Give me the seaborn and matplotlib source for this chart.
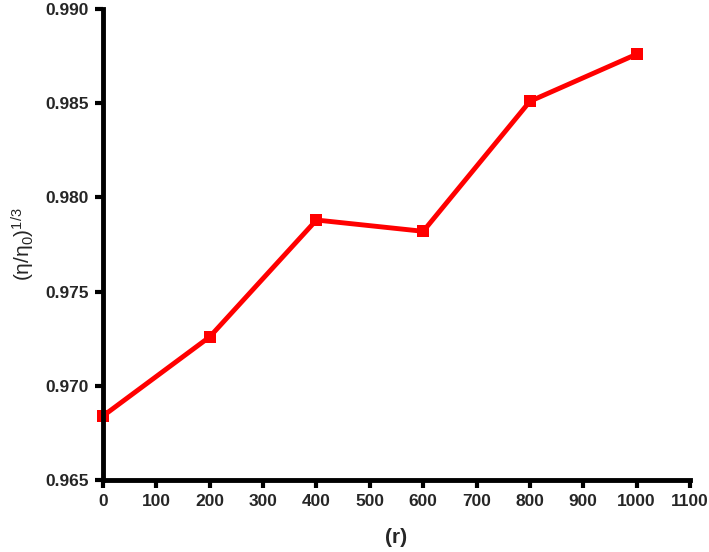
import pandas as pd
import matplotlib.pyplot as plt
import seaborn as sns

# dados
r_vals = [0, 200, 400, 600, 800, 1000]
eta_ratio = [0.9684, 0.9726, 0.9788, 0.9782, 0.9851, 0.9876]

x_ticks = [0, 100, 200, 300, 400, 500, 600, 700, 800, 900, 1000, 1100]
y_ticks = [0.965, 0.970, 0.975, 0.980, 0.985, 0.990]
y_tick_labels = ["0.965", "0.970", "0.975", "0.980", "0.985", "0.990"]

df = pd.DataFrame({"r": r_vals, "eta": eta_ratio})

sns.set_style("ticks")
plt.rcParams["font.family"] = ["Liberation Sans", "DejaVu Sans"]
plt.rcParams["mathtext.fontset"] = "custom"
plt.rcParams["mathtext.rm"] = "Liberation Sans"
plt.rcParams["mathtext.it"] = "Liberation Sans:italic"

fig = plt.figure(figsize=(7.09, 5.52), dpi=100)
ax = fig.add_axes([0.1453, 0.1304, 0.8279, 0.8533])

sns.lineplot(
    x="r",
    y="eta",
    data=df,
    color="#ff0000",
    linewidth=3.5,
    marker="s",
    markersize=8,
    markeredgewidth=0,
    ax=ax,
    clip_on=False,
)

ax.set_xlim(0, 1100)
ax.set_ylim(0.965, 0.990)
ax.set_xticks(x_ticks)
ax.set_yticks(y_ticks)
ax.set_yticklabels(y_tick_labels)

for lbl in ax.get_xticklabels() + ax.get_yticklabels():
    lbl.set_fontweight("bold")
    lbl.set_fontsize(12.5)

ax.tick_params(axis="both", direction="out", length=6, width=3, pad=4, color="black")
sns.despine(ax=ax)
for s in ["left", "bottom"]:
    ax.spines[s].set_linewidth(3.5)
    ax.spines[s].set_color("black")
    ax.spines[s].set_capstyle("projecting")

ax.set_xlabel("(r)", fontsize=15, fontweight="bold", labelpad=14)
ax.set_ylabel(r"$(\mathrm{η}/\mathrm{η}_0)^{1/3}$", fontsize=15, labelpad=6)

plt.savefig("out.png", dpi=100)
